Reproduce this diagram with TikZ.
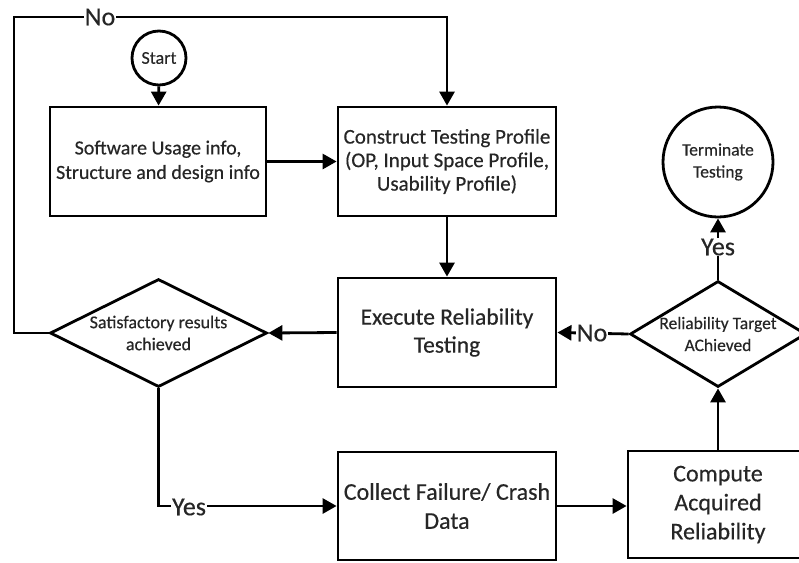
\documentclass[tikz,border=0pt]{standalone}
\usepackage{fontspec}
\setmainfont{Carlito}
\newfontfamily\dgfont[FakeBold=0.4]{Carlito}
\usetikzlibrary{shapes.geometric,arrows.meta}
\begin{document}
\begin{tikzpicture}[x=1pt,y=-1pt,
  line width=2.8pt,
  txt/.style={text=black!85, align=center, font=\dgfont\fontsize{20}{24.5}\selectfont},
  box/.style={draw, rectangle, inner sep=0pt},
  circ/.style={draw, circle, inner sep=0pt},
  dia/.style={draw, diamond, inner sep=0pt},
  arr/.style={-{Triangle[length=14pt,width=15pt]}},
  lbl/.style={fill=white, inner sep=1pt, text=black!85, font=\dgfont\fontsize{26}{30}\selectfont}]
\useasboundingbox (0,0) rectangle (799,562);
\clip (0,0) rectangle (799,562);
% nodes
\node[circ, minimum size=54pt] (start) at (159,58) {};
\node[txt, font=\dgfont\fontsize{18}{22}\selectfont] at (start) {Start};
\node[box, minimum width=216pt, minimum height=109pt] (soft) at (158,161.5) {};
\node[txt] at (soft) {Software Usage info,\\Structure and design info};
\node[box, minimum width=218pt, minimum height=109pt] (cons) at (447,161.5) {};
\node[txt, font=\dgfont\fontsize{21}{23.5}\selectfont] at (cons) {Construct Testing Profile\\(OP, Input Space Profile,\\Usability Profile)};
\node[circ, minimum size=110pt] (term) at (718,162) {};
\node[txt, font=\dgfont\fontsize{17.5}{22}\selectfont] at (term) {Terminate\\Testing};
\node[box, minimum width=218pt, minimum height=109pt] (exec) at (447,332.5) {};
\node[txt, font=\dgfont\fontsize{23.5}{28}\selectfont] at (exec) {Execute Reliability\\Testing};
\node[dia, minimum width=217pt, minimum height=108pt] (ld) at (158.5,333) {};
\node[txt, font=\dgfont\fontsize{18}{22}\selectfont] at (ld) {Satisfactory results\\achieved};
\node[dia, minimum width=176pt, minimum height=106pt] (rd) at (718,334) {};
\node[txt, font=\dgfont\fontsize{17.5}{22}\selectfont] at (rd) {Reliability Target\\AChieved};
\node[box, minimum width=218pt, minimum height=108pt] (coll) at (447,506) {};
\node[txt, font=\dgfont\fontsize{24}{29}\selectfont] at (coll) {Collect Failure/ Crash\\Data};
\node[box, minimum width=180pt, minimum height=107pt] (comp) at (718,504.5) {};
\node[txt, font=\dgfont\fontsize{24}{29}\selectfont] at (comp) {Compute\\Acquired\\Reliability};
% loop corner
\coordinate (c1) at (14,17);
% connectors
\draw[arr] (start) -- (soft);
\draw[arr] (soft.east) -- (cons.west);
\draw[arr] (cons) -- (exec);
\draw[arr] (exec.west) -- (ld.east);
\draw[arr] (ld.west) -| (c1) -| (cons.north);
\draw[arr] (ld.south) |- (coll.west);
\draw[arr] (coll.east) -- (coll.east -| comp.west);
\draw[arr] (comp.north -| rd.south) -- (rd.south);
\draw[arr] (rd.north) -- (term.south);
\draw[arr] (rd.west) -- (exec.east);
% labels
\node[lbl] (lno1) at (100,17) {No};
\node[lbl] (lyes1) at (189,507) {Yes};
\node[lbl] (lyes2) at (718,247) {Yes};
\node[lbl] (lno2) at (592,333) {No};
\end{tikzpicture}
\end{document}
